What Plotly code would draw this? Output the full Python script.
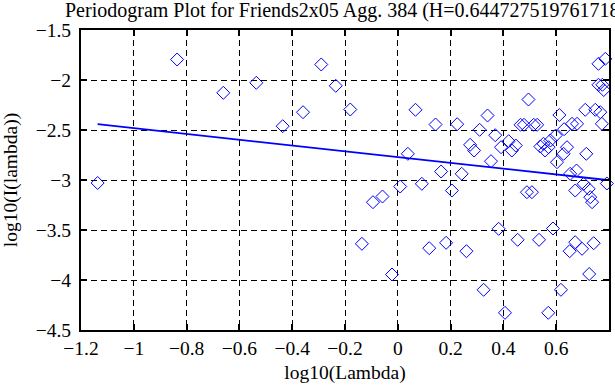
import plotly.graph_objects as go

# periodogram points: log10(lambda), log10(I(lambda))
log_lambda = [-1.137, -0.836, -0.661, -0.536, -0.436, -0.359, -0.290, -0.235, -0.180, -0.136,
              -0.094, -0.058, -0.022, 0.009, 0.038, 0.067, 0.091, 0.119, 0.143, 0.164,
              0.183, 0.205, 0.225, 0.242, 0.260, 0.274, 0.289, 0.310, 0.325, 0.340,
              0.353, 0.369, 0.382, 0.391, 0.406, 0.420, 0.432, 0.447, 0.454, 0.465,
              0.478, 0.489, 0.495, 0.508, 0.515, 0.528, 0.535, 0.540, 0.552, 0.558,
              0.571, 0.570, 0.578, 0.588, 0.598, 0.603, 0.612, 0.618, 0.628, 0.630,
              0.641, 0.651, 0.653, 0.660, 0.672, 0.672, 0.677, 0.679, 0.698, 0.704,
              0.710, 0.714, 0.723, 0.725, 0.729, 0.736, 0.742, 0.748, 0.760, 0.760,
              0.767, 0.773, 0.775, 0.780, 0.786, 0.792]
log_power = [-3.030, -1.795, -2.128, -2.028, -2.462, -2.322, -1.845, -2.058, -2.295, -3.638,
             -3.222, -3.165, -3.945, -3.065, -2.738, -2.298, -3.038, -3.682, -2.445, -2.915,
             -3.628, -3.105, -2.442, -2.938, -3.712, -2.648, -2.705, -2.498, -4.098, -2.355,
             -2.812, -2.552, -3.488, -2.672, -4.328, -2.612, -2.705, -2.655, -3.598, -2.448,
             -2.448, -3.122, -2.195, -3.122, -2.448, -2.448, -3.598, -2.665, -2.638, -2.705,
             -2.672, -4.328, -2.605, -3.485, -2.555, -2.822, -2.350, -4.098, -2.738, -2.492,
             -2.672, -3.712, -2.938, -2.438, -3.105, -3.622, -2.905, -2.438, -3.688, -3.038,
             -2.298, -2.738, -3.088, -3.940, -3.172, -3.222, -3.632, -2.298, -1.838, -2.048,
             -2.322, -2.438, -2.048, -2.100, -1.788, -3.035]

# least-squares fit line end points
fit_x = [-1.137, 0.792]
fit_y = [-2.442, -3.000]

x_tickvals = [-1.2, -1.0, -0.8, -0.6, -0.4, -0.2, 0.0, 0.2, 0.4, 0.6, 0.8]
x_ticktext = ["\u22121.2", "\u22121", "\u22120.8", "\u22120.6", "\u22120.4", "\u22120.2",
              "0", "0.2", "0.4", "0.6", "0.8"]
y_tickvals = [-4.5, -4.0, -3.5, -3.0, -2.5, -2.0, -1.5]
y_ticktext = ["\u22124.5", "\u22124", "\u22123.5", "\u22123", "\u22122.5", "\u22122", "\u22121.5"]

title_text = "Periodogram Plot for Friends2x05 Agg. 384 (H=0.644727519761718)"

FONT = "Liberation Serif, Times New Roman, serif"
BLUE = "#0000ff"
TICK_SIZE = 19.5

fig = go.Figure()
fig.add_trace(go.Scatter(
    x=log_lambda, y=log_power, mode="markers",
    marker=dict(symbol="diamond-open", size=10, color=BLUE, line=dict(width=1, color=BLUE)),
    showlegend=False, cliponaxis=False))
fig.add_trace(go.Scatter(
    x=fit_x, y=fit_y, mode="lines",
    line=dict(color=BLUE, width=1.8), showlegend=False))

axis_common = dict(
    showline=True, linecolor="black", linewidth=2, mirror="ticks",
    ticks="inside", ticklen=6, tickwidth=1.5, tickcolor="black",
    showgrid=True, gridcolor="black", gridwidth=1, griddash="6px,4px",
    zeroline=False, automargin=False,
    tickfont=dict(family=FONT, size=TICK_SIZE, color="black"),
)

fig.update_xaxes(range=[-1.2, 0.8], tickmode="array", tickvals=x_tickvals, ticktext=x_ticktext,
                 title=dict(text="log10(Lambda)", font=dict(family=FONT, size=TICK_SIZE, color="black"), standoff=7),
                 **axis_common)
fig.update_yaxes(range=[-4.5, -1.5], tickmode="array", tickvals=y_tickvals, ticktext=y_ticktext,
                 ticklabelstandoff=4,
                 title=dict(text="log10(I(lambda))", font=dict(family=FONT, size=TICK_SIZE, color="black"), standoff=18),
                 **axis_common)

fig.add_annotation(text=title_text, xref="paper", yref="paper", x=0.5, y=1.0,
                   xanchor="center", yanchor="bottom", yshift=6, showarrow=False,
                   font=dict(family=FONT, size=20, color="black"))

fig.update_layout(
    width=615, height=385,
    margin=dict(l=81, r=6, t=30, b=55, pad=0),
    paper_bgcolor="white", plot_bgcolor="white",
    font=dict(family=FONT, size=TICK_SIZE, color="black"),
)

fig.write_html("out.html", config={"displayModeBar": False},
               post_script="document.body.style.margin='0';")
